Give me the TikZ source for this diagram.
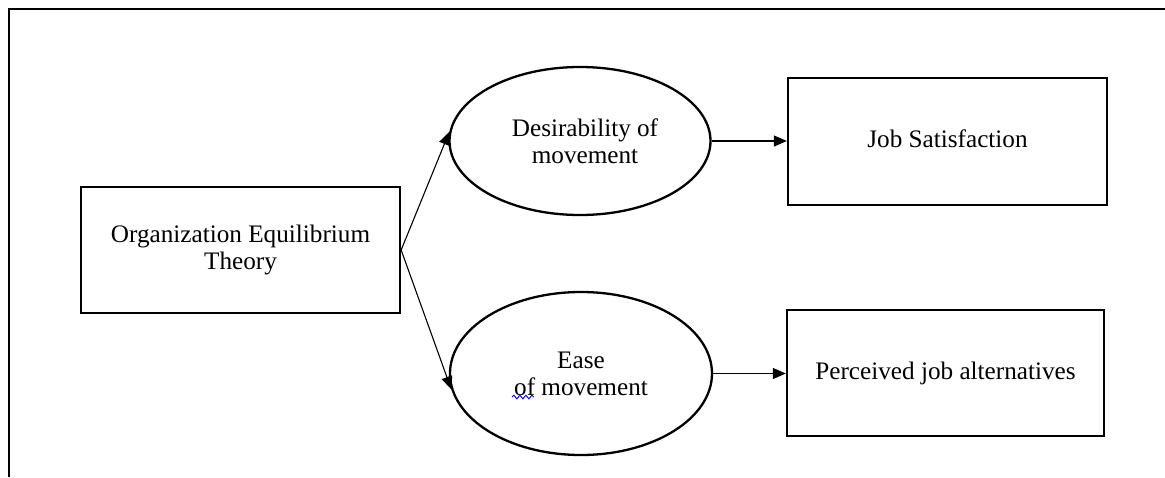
\documentclass[tikz,border=0pt]{standalone}
\usepackage{fontspec}
\setmainfont{Liberation Serif}
\usetikzlibrary{shapes.geometric,arrows.meta,decorations.pathmorphing}
\tikzset{
  box/.style={draw,line width=2.3pt,rectangle,inner sep=0pt,align=center,
    font=\fontsize{25.2}{27}\selectfont},
  oval/.style={draw,line width=2.3pt,ellipse,inner sep=0pt,align=center,
    font=\fontsize{25.2}{27}\selectfont},
  conn/.style={line width=1.1pt,-{Triangle[length=13pt,width=11pt]}},
  frame/.style={line width=2.6pt}
}
\begin{document}
\begin{tikzpicture}[x=1pt,y=-1pt]
\useasboundingbox (0,0) rectangle (1165,477);
\draw[frame] (9,477) -- (9,9) -- (1165,9);
\node[box,minimum width=319pt,minimum height=126pt] (oet) at (240.5,250) {Organization Equilibrium\\Theory};
\node[oval,minimum width=261pt,minimum height=148pt] (e1) at (580,141) {\hspace*{10pt}Desirability of\\\hspace*{10pt}movement};
\node[oval,minimum width=262pt,minimum height=163pt] (e2) at (581,373.5) {Ease\\of movement};
\node[box,minimum width=319pt,minimum height=127pt] (js) at (947.5,141.5) {\raisebox{5pt}{Job Satisfaction}};
\node[box,minimum width=317pt,minimum height=126pt] (pja) at (945.5,373) {Perceived job alternatives};
\draw[conn] (oet.east) -- (e1.176);
\draw[conn] (oet.east) -- (e2.187);
\draw[conn] (e1.east) -- (e1.east -| js.west);
\draw[conn] (e2.east) -- (e2.east -| pja.west);
\draw[blue,line width=0.9pt,decorate,decoration={snake,amplitude=1.8pt,segment length=6pt}] (512,397) -- (534,397);
\end{tikzpicture}
\end{document}
